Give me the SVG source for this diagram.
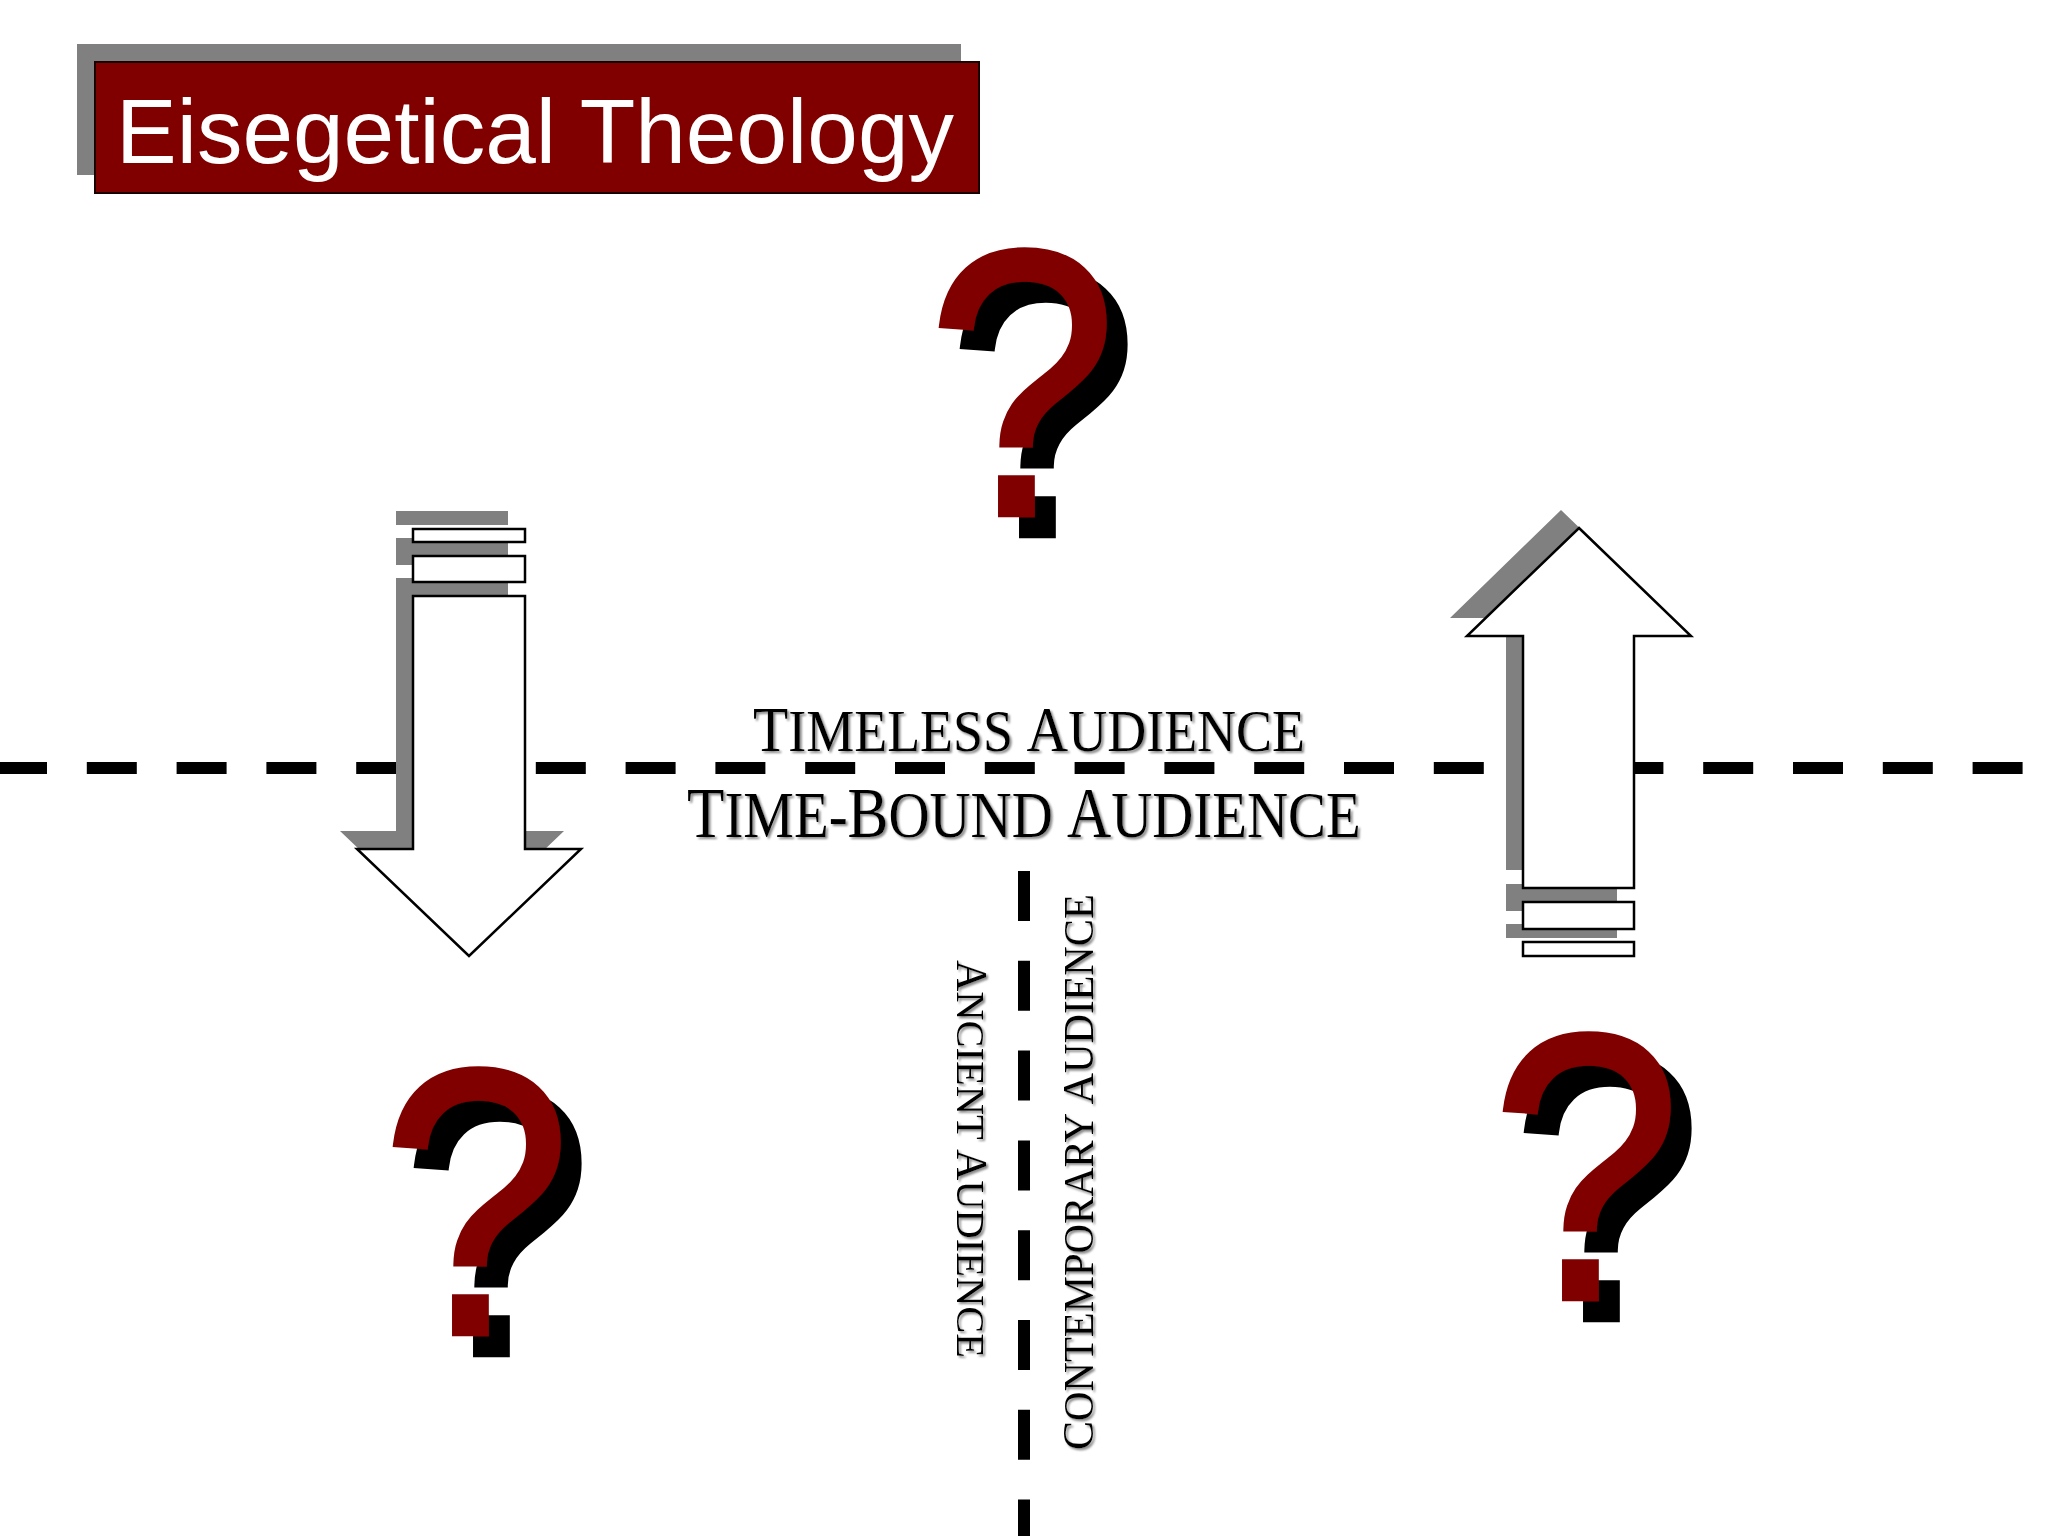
<svg xmlns="http://www.w3.org/2000/svg" width="2048" height="1536" viewBox="0 0 2048 1536">
<defs>
<style>
.shadow{fill:#808080;stroke:none}
.white{fill:#ffffff;stroke:#000000;stroke-width:2.5;stroke-linejoin:miter}
.dash{stroke:#000000;stroke-width:12;fill:none;stroke-dasharray:50 39.8}
.lbl{font-family:"Liberation Serif","Times New Roman",serif;fill:#000000}
.q{font-family:"Liberation Sans",Arial,sans-serif;font-size:380px;fill:#800000;stroke:#800000;stroke-width:4.7;stroke-linejoin:miter}
</style>
<filter id="ts" x="-0.1" y="-0.3" width="1.2" height="1.6">
<feDropShadow dx="2" dy="2" stdDeviation="0.8" flood-color="#8a8a8a" flood-opacity="1"/>
</filter>
<filter id="qs" x="-0.4" y="-0.3" width="1.8" height="1.6">
<feDropShadow dx="21" dy="21" stdDeviation="0" flood-color="#000000" flood-opacity="1"/>
</filter>
</defs>
<rect x="0" y="0" width="2048" height="1536" fill="#ffffff"/>

<g id="dividers">
<line class="dash" x1="-3" y1="768" x2="2048" y2="768"/>
<line class="dash" x1="1024" y1="871" x2="1024" y2="1536"/>
</g>

<g id="title">
<rect class="shadow" x="77" y="44" width="884" height="131"/>
<rect x="95" y="62" width="884" height="131" fill="#800000" stroke="#1a0000" stroke-width="2"/>
<text x="116" y="163" font-family="'Liberation Sans',Arial,sans-serif" font-size="90" fill="#ffffff" textLength="838" lengthAdjust="spacingAndGlyphs">Eisegetical Theology</text>
</g>

<g id="arrow-down">
<rect class="shadow" x="396" y="511" width="112" height="14"/>
<rect class="shadow" x="396" y="538" width="112" height="27"/>
<polygon class="shadow" points="396,578 508,578 508,831 564,831 452,938 340,831 396,831"/>
<rect class="white" x="413" y="529" width="112" height="13"/>
<rect class="white" x="413" y="556" width="112" height="26"/>
<polygon class="white" points="413,596 525,596 525,849 581,849 469,956 357,849 413,849"/>
</g>

<g id="arrow-up">
<polygon class="shadow" points="1561,510 1673,618 1617,618 1617,870 1506,870 1506,618 1450,618"/>
<rect class="shadow" x="1506" y="884" width="111" height="27"/>
<rect class="shadow" x="1506" y="924" width="111" height="14"/>
<polygon class="white" points="1579,528 1691,636 1634,636 1634,888 1523,888 1523,636 1467,636"/>
<rect class="white" x="1523" y="902" width="111" height="27"/>
<rect class="white" x="1523" y="942" width="111" height="14"/>
</g>

<g id="label-timeless" filter="url(#ts)">
<text class="lbl" transform="translate(753,751) scale(0.915,1)" x="0" y="0"><tspan font-size="63">T</tspan><tspan font-size="59">IMELESS </tspan><tspan font-size="63">A</tspan><tspan font-size="59">UDIENCE</tspan></text>
</g>
<g id="label-timebound" filter="url(#ts)">
<text class="lbl" transform="translate(687,837) scale(0.862,1)" x="0" y="0"><tspan font-size="71">T</tspan><tspan font-size="66">IME-</tspan><tspan font-size="71">B</tspan><tspan font-size="66">OUND </tspan><tspan font-size="71">A</tspan><tspan font-size="66">UDIENCE</tspan></text>
</g>
<g id="label-ancient" filter="url(#ts)">
<text class="lbl" transform="translate(957,960) rotate(90) scale(0.987,1)" x="0" y="0"><tspan font-size="44">A</tspan><tspan font-size="41">NCIENT </tspan><tspan font-size="44">A</tspan><tspan font-size="41">UDIENCE</tspan></text>
</g>
<g id="label-contemporary" filter="url(#ts)">
<text class="lbl" transform="translate(1093,1450) rotate(-90) scale(0.97,1)" x="0" y="0"><tspan font-size="45">C</tspan><tspan font-size="42">ONTEMPORARY </tspan><tspan font-size="45">A</tspan><tspan font-size="42">UDIENCE</tspan></text>
</g>

<g id="q-top" filter="url(#qs)">
<text class="q" transform="translate(927,515) scale(0.9,1)" x="0" y="0">?</text>
</g>
<g id="q-left" filter="url(#qs)">
<text class="q" transform="translate(381,1334) scale(0.9,1)" x="0" y="0">?</text>
</g>
<g id="q-right" filter="url(#qs)">
<text class="q" transform="translate(1491,1299) scale(0.9,1)" x="0" y="0">?</text>
</g>
</svg>
